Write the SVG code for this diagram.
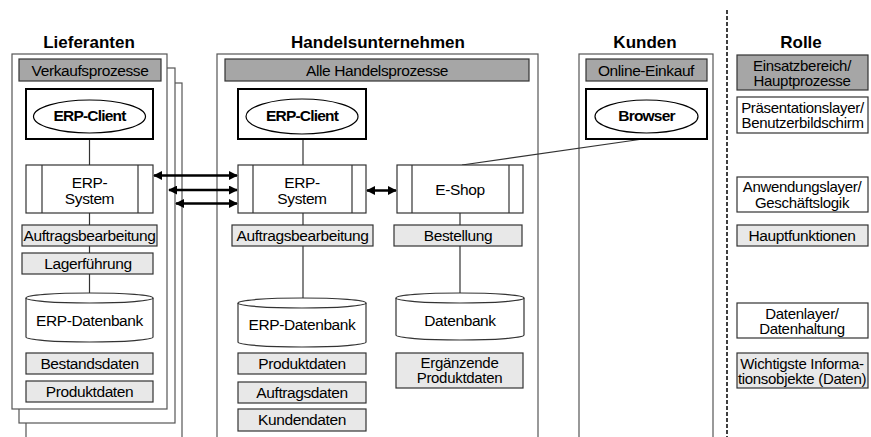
<svg xmlns="http://www.w3.org/2000/svg" width="871" height="437" viewBox="0 0 871 437">
<defs>
<marker id="ah" viewBox="0 0 10 10" refX="9" refY="5" markerWidth="9" markerHeight="9" markerUnits="userSpaceOnUse" orient="auto-start-reverse">
<path d="M0,0 L10,5 L0,10 z" fill="#000"/>
</marker>
<style>
.t{font-family:"Liberation Sans",Arial,sans-serif;font-size:15.5px;letter-spacing:-0.4px;fill:#000;text-anchor:middle}
.t2{font-size:15px;letter-spacing:-0.3px}
.b{font-weight:bold;letter-spacing:-0.8px}
.h{font-family:"Liberation Sans",Arial,sans-serif;font-size:17px;font-weight:bold;fill:#000;text-anchor:middle}
.frame{fill:#fff;stroke:#555;stroke-width:1.2}
.hdr{fill:#a6a6a6;stroke:#333;stroke-width:1.2}
.lt{fill:#e8e8e8;stroke:#333;stroke-width:1.2}
.wb{fill:#fff;stroke:#333;stroke-width:1.2}
.cl{fill:#fff;stroke:#000;stroke-width:2}
.el{fill:#fff;stroke:#000;stroke-width:1.2}
.ln{stroke:#333;stroke-width:1.2;fill:none}
.ar{stroke:#000;stroke-width:2.5;fill:none;marker-start:url(#ah);marker-end:url(#ah)}
</style>
</defs>
<rect width="871" height="437" fill="#fff"/>

<g id="lieferanten">
<rect class="frame" x="26" y="83" width="156" height="360"/>
<rect class="frame" x="19" y="68" width="156" height="355"/>
<rect class="frame" x="12" y="54" width="155" height="355"/>
<text class="h" x="89" y="48">Lieferanten</text>
<rect class="hdr" x="19" y="59" width="142" height="22"/>
<text class="t" x="90" y="76">Verkaufsprozesse</text>
</g>

<g id="handel">
<rect class="frame" x="217" y="54" width="321" height="390"/>
<text class="h" x="378" y="48">Handelsunternehmen</text>
<rect class="hdr" x="225" y="59" width="304" height="22"/>
<text class="t" x="377" y="76">Alle Handelsprozesse</text>
</g>

<g id="kunden">
<rect class="frame" x="579" y="54" width="134" height="390"/>
<text class="h" x="645" y="48">Kunden</text>
<rect class="hdr" x="586" y="59" width="121" height="22"/>
<text class="t" x="646" y="76">Online-Einkauf</text>
</g>

<g id="connectors">
<line class="ln" x1="89.5" y1="139" x2="89.5" y2="165"/>
<line class="ln" x1="89.5" y1="213" x2="89.5" y2="225"/>
<line class="ln" x1="89.5" y1="246" x2="89.5" y2="253"/>
<line class="ln" x1="89.5" y1="274" x2="89.5" y2="294"/>
<line class="ln" x1="303" y1="139" x2="303" y2="165"/>
<line class="ln" x1="303" y1="213" x2="303" y2="225"/>
<line class="ln" x1="303" y1="246" x2="303" y2="299"/>
<line class="ln" x1="460" y1="213" x2="460" y2="225"/>
<line class="ln" x1="460" y1="246" x2="460" y2="294"/>
<line class="ln" x1="462" y1="165" x2="643" y2="139"/>
<line class="ar" x1="154" y1="175.5" x2="237" y2="175.5"/>
<line class="ar" x1="169" y1="190" x2="237" y2="190"/>
<line class="ar" x1="176" y1="203.5" x2="237" y2="203.5"/>
<line class="ar" x1="367" y1="190.5" x2="396" y2="190.5"/>
</g>

<g id="l-client">
<rect class="cl" x="26" y="89" width="127" height="50"/>
<ellipse class="el" cx="89.5" cy="116.5" rx="56" ry="16.5"/>
<text class="t b" x="89.5" y="121">ERP-Client</text>
</g>
<g id="l-erp">
<rect class="wb" x="26" y="165" width="127" height="48"/>
<line class="ln" x1="42" y1="165" x2="42" y2="213"/>
<line class="ln" x1="138" y1="165" x2="138" y2="213"/>
<text class="t" x="89.5" y="188">ERP-<tspan x="89.5" y="204">System</tspan></text>
</g>
<g id="l-auftrag">
<rect class="lt" x="22" y="225" width="135" height="21"/>
<text class="t" x="89.5" y="241">Auftragsbearbeitung</text>
</g>
<g id="l-lager">
<rect class="lt" x="22" y="253" width="131" height="21"/>
<text class="t" x="88" y="269">Lagerführung</text>
</g>
<g id="l-db">
<path class="wb" d="M26,298 A63.5,5 0 0 1 153,298 V337 A63.5,5 0 0 1 26,337 Z"/>
<path class="ln" d="M26,298 A63.5,5 0 0 0 153,298"/>
<text class="t" x="89.5" y="326">ERP-Datenbank</text>
</g>
<g id="l-bestand">
<rect class="lt" x="26" y="353" width="127" height="21"/>
<text class="t" x="89.5" y="369">Bestandsdaten</text>
</g>
<g id="l-produkt">
<rect class="lt" x="26" y="381" width="127" height="21"/>
<text class="t" x="89.5" y="397">Produktdaten</text>
</g>

<g id="h-client">
<rect class="cl" x="238" y="89" width="128" height="50"/>
<ellipse class="el" cx="302" cy="116.5" rx="56" ry="17.5"/>
<text class="t b" x="302" y="121">ERP-Client</text>
</g>
<g id="h-erp">
<rect class="wb" x="238" y="165" width="128" height="48"/>
<line class="ln" x1="253" y1="165" x2="253" y2="213"/>
<line class="ln" x1="352" y1="165" x2="352" y2="213"/>
<text class="t" x="302" y="188">ERP-<tspan x="302" y="204">System</tspan></text>
</g>
<g id="h-auftrag">
<rect class="lt" x="232" y="225" width="141" height="21"/>
<text class="t" x="302.5" y="241">Auftragsbearbeitung</text>
</g>
<g id="h-db">
<path class="wb" d="M238,303 A64,5 0 0 1 366,303 V342 A64,5 0 0 1 238,342 Z"/>
<path class="ln" d="M238,303 A64,5 0 0 0 366,303"/>
<text class="t" x="302" y="330">ERP-Datenbank</text>
</g>
<g id="h-produkt">
<rect class="lt" x="238" y="353" width="128" height="21"/>
<text class="t" x="302" y="369">Produktdaten</text>
</g>
<g id="h-auftragsdaten">
<rect class="lt" x="238" y="382" width="128" height="21"/>
<text class="t" x="302" y="398">Auftragsdaten</text>
</g>
<g id="h-kunden">
<rect class="lt" x="238" y="409" width="128" height="22"/>
<text class="t" x="302" y="425">Kundendaten</text>
</g>

<g id="h-eshop">
<rect class="wb" x="397" y="165" width="126" height="48"/>
<line class="ln" x1="412" y1="165" x2="412" y2="213"/>
<line class="ln" x1="509" y1="165" x2="509" y2="213"/>
<text class="t" x="460" y="195">E-Shop</text>
</g>
<g id="h-bestellung">
<rect class="lt" x="394" y="225" width="128" height="21"/>
<text class="t" x="458" y="241">Bestellung</text>
</g>
<g id="h-datenbank">
<path class="wb" d="M396,298 A64,5 0 0 1 524,298 V335 A64,5 0 0 1 396,335 Z"/>
<path class="ln" d="M396,298 A64,5 0 0 0 524,298"/>
<text class="t" x="460" y="326">Datenbank</text>
</g>
<g id="h-ergaenzend">
<rect class="lt" x="396" y="353" width="127" height="35"/>
<text class="t t2" x="459.5" y="367.5">Ergänzende<tspan x="459.5" y="383">Produktdaten</tspan></text>
</g>

<g id="k-browser">
<rect class="cl" x="586" y="89" width="121" height="50"/>
<ellipse class="el" cx="646.5" cy="116.5" rx="51.5" ry="16.5"/>
<text class="t b" x="646.5" y="121">Browser</text>
</g>

<line x1="727" y1="10" x2="727" y2="437" stroke="#000" stroke-width="1.5" stroke-dasharray="4,2"/>

<g id="rolle">
<text class="h" x="801" y="48">Rolle</text>
</g>
<g id="r-einsatz">
<rect class="hdr" x="737" y="55" width="131" height="35"/>
<text class="t t2" x="802" y="70.5">Einsatzbereich/<tspan x="802" y="86">Hauptprozesse</tspan></text>
</g>
<g id="r-praes">
<rect class="wb" x="737" y="97" width="131" height="36"/>
<text class="t t2" x="802.5" y="112.5">Präsentationslayer/<tspan x="802.5" y="128">Benutzerbildschirm</tspan></text>
</g>
<g id="r-anw">
<rect class="wb" x="737" y="177" width="131" height="35"/>
<text class="t t2" x="802" y="192">Anwendungslayer/<tspan x="802" y="207.5">Geschäftslogik</tspan></text>
</g>
<g id="r-haupt">
<rect class="lt" x="737" y="225" width="131" height="21"/>
<text class="t" x="802" y="241">Hauptfunktionen</text>
</g>
<g id="r-daten">
<rect class="wb" x="737" y="303" width="131" height="35"/>
<text class="t t2" x="802" y="318.5">Datenlayer/<tspan x="802" y="334">Datenhaltung</tspan></text>
</g>
<g id="r-wichtig">
<rect class="lt" x="737" y="353" width="131" height="35"/>
<text class="t t2" x="802" y="368.5">Wichtigste Informa-<tspan x="802" y="384">tionsobjekte (Daten)</tspan></text>
</g>
</svg>
